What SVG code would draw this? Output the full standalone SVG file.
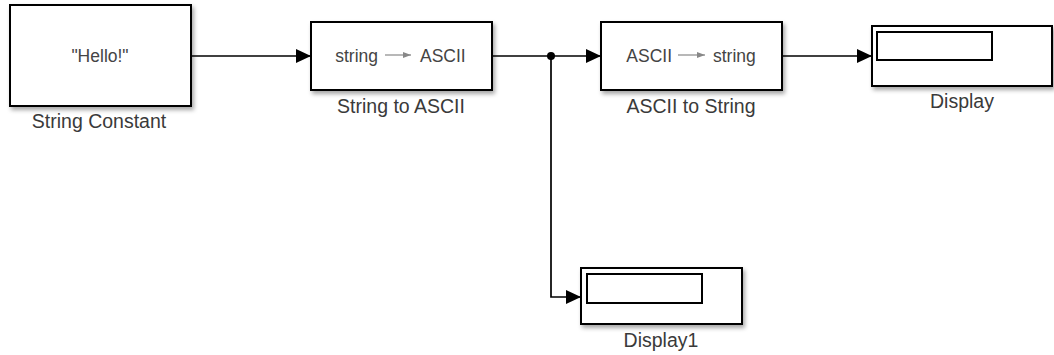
<svg xmlns="http://www.w3.org/2000/svg" width="1054" height="355" viewBox="0 0 1054 355">
  <defs>
    <filter id="shadow" x="-10%" y="-10%" width="130%" height="140%">
      <feDropShadow dx="2" dy="3" stdDeviation="2" flood-color="#000" flood-opacity="0.35"/>
    </filter>
    <marker id="arrow" markerWidth="16" markerHeight="16" refX="15" refY="7" orient="auto" markerUnits="userSpaceOnUse">
      <path d="M0,0 L15,7 L0,14 Z" fill="#000"/>
    </marker>
    <marker id="small" markerWidth="10" markerHeight="8" refX="8" refY="3" orient="auto" markerUnits="userSpaceOnUse">
      <path d="M0,0 L8,3 L0,6 Z" fill="#888"/>
    </marker>
  </defs>
  <style>
    .blk { fill: #fff; stroke: #000; stroke-width: 2; filter: url(#shadow); }
    .inner { fill: #fff; stroke: #000; stroke-width: 2; }
    .lbl { font-family: "Liberation Sans", Arial, sans-serif; font-size: 19.5px; fill: #3a3a3a; text-anchor: middle; }
    .txt { font-family: "Liberation Sans", Arial, sans-serif; font-size: 17.5px; fill: #444; }
    .wire { fill: none; stroke: #000; stroke-width: 1.7; }
    .iarrow { stroke: #888; stroke-width: 1.2; fill: none; }
  </style>
  <rect width="1054" height="355" fill="#fff"/>

  <g id="string-constant">
    <rect class="blk" x="10" y="5" width="181" height="101"/>
    <text class="txt" x="100" y="62" text-anchor="middle" font-size="19.5">"Hello!"</text>
    <text class="lbl" x="99" y="128">String Constant</text>
  </g>

  <g id="string-to-ascii">
    <rect class="blk" x="311" y="22" width="181" height="68"/>
    <text class="txt" x="378" y="62" text-anchor="end">string</text>
    <line class="iarrow" x1="385" y1="55" x2="411" y2="55" marker-end="url(#small)"/>
    <text class="txt" x="420" y="62">ASCII</text>
    <text class="lbl" x="401" y="113">String to ASCII</text>
  </g>

  <g id="ascii-to-string">
    <rect class="blk" x="601" y="22" width="181" height="68"/>
    <text class="txt" x="672" y="62" text-anchor="end">ASCII</text>
    <line class="iarrow" x1="678" y1="55" x2="705" y2="55" marker-end="url(#small)"/>
    <text class="txt" x="713" y="62">string</text>
    <text class="lbl" x="691" y="113">ASCII to String</text>
  </g>

  <g id="display">
    <rect class="blk" x="872" y="26" width="180" height="60"/>
    <rect class="inner" x="877" y="32" width="115" height="28"/>
    <text class="lbl" x="962" y="108">Display</text>
  </g>

  <g id="display1">
    <rect class="blk" x="581" y="268" width="161" height="56"/>
    <rect class="inner" x="587" y="274" width="115" height="29"/>
    <text class="lbl" x="661" y="347">Display1</text>
  </g>

  <g id="connectors">
    <line class="wire" x1="191" y1="56" x2="311" y2="56" marker-end="url(#arrow)"/>
    <line class="wire" x1="492" y1="56" x2="601" y2="56" marker-end="url(#arrow)"/>
    <polyline class="wire" points="551,56 551,297 581,297" marker-end="url(#arrow)"/>
    <circle cx="551" cy="56" r="4" fill="#000"/>
    <line class="wire" x1="782" y1="56" x2="872" y2="56" marker-end="url(#arrow)"/>
  </g>
</svg>
